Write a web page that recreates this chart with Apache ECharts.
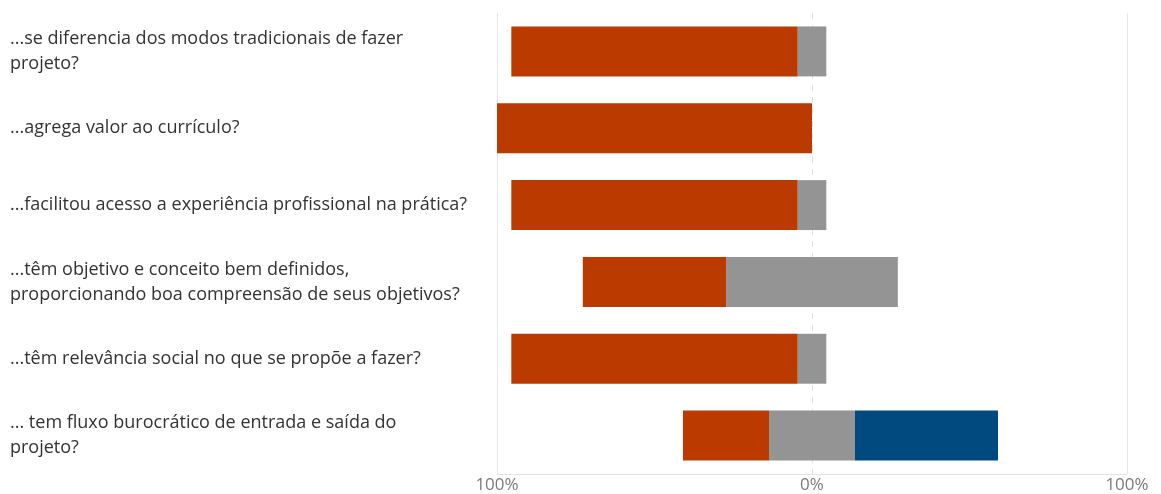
<!DOCTYPE html>
<html>
<head>
<meta charset="utf-8">
<script src="https://cdn.jsdelivr.net/npm/echarts@6/dist/echarts.min.js"></script>
<style>
  html, body { margin: 0; padding: 0; background: #ffffff; }
  #chart { width: 1161px; height: 494px; }
</style>
</head>
<body>
<div id="chart"></div>
<script>
// Perguntas (uma por linha do gráfico)
const categories = [
  '...se diferencia dos modos tradicionais de fazer\nprojeto?',
  '...agrega valor ao currículo?',
  '...facilitou acesso a experiência profissional na prática?',
  '...têm objetivo e conceito bem definidos,\nproporcionando boa compreensão de seus objetivos?',
  '...têm relevância social no que se propõe a fazer?',
  '... tem fluxo burocrático de entrada e saída do\nprojeto?'
];

// Percentual de respostas por pergunta
const concordo = [90.9, 100, 90.9, 45.5, 90.9, 27.3];
const neutro = [9.1, 0, 9.1, 54.5, 9.1, 27.3];
const discordo = [0, 0, 0, 0, 0, 45.4];

// Tick labels do eixo horizontal
const xTicks = [-100, 0, 100];

const RED = '#BB3A00';
const GREY = '#949494';
const BLUE = '#004A80';

// Neutro é dividido ao meio em torno do zero
const neutroNeg = neutro.map(v => -v / 2);
const neutroPos = neutro.map(v => v / 2);
const concordoNeg = concordo.map(v => -v);

const chart = echarts.init(document.getElementById('chart'), null, { renderer: 'canvas' });

const font = "'Open Sans', 'Noto Sans', sans-serif";

chart.setOption({
  animation: false,
  grid: { left: 497, right: 34, top: 13, bottom: 19, containLabel: false },
  xAxis: {
    type: 'value',
    min: xTicks[0],
    max: xTicks[xTicks.length - 1],
    interval: 100,
    axisLine: { show: true, lineStyle: { color: '#e3e3e3', width: 1 } },
    axisTick: { show: false },
    splitLine: { show: false },
    axisLabel: {
      color: '#7a7a7a',
      fontSize: 17,
      fontFamily: font,
      margin: 3,
      formatter: v => Math.abs(v) + '%'
    }
  },
  yAxis: {
    type: 'category',
    data: categories,
    inverse: true,
    axisLine: { show: false },
    axisTick: { show: false },
    splitLine: { show: false },
    axisLabel: {
      align: 'left',
      margin: 487,
      color: '#333333',
      fontSize: 18,
      lineHeight: 25,
      fontFamily: font
    }
  },
  series: [
    {
      // linhas de referência verticais em -100%, 0% e 100%, atrás das barras
      name: 'linhas',
      type: 'line',
      data: [],
      z: 0,
      silent: true,
      markLine: {
        z: 0,
        silent: true,
        symbol: 'none',
        label: { show: false },
        data: [
          { xAxis: xTicks[0], lineStyle: { color: '#e6e6e6', type: 'solid', width: 1 } },
          { xAxis: xTicks[1], lineStyle: { color: '#e0e0e0', type: [6, 6], width: 1 } },
          { xAxis: xTicks[2], lineStyle: { color: '#e6e6e6', type: 'solid', width: 1 } }
        ]
      }
    },
    {
      name: 'Neutro',
      type: 'bar',
      stack: 'total',
      barCategoryGap: '35%',
      z: 2,
      itemStyle: { color: GREY },
      data: neutroNeg
    },
    {
      name: 'Concordo',
      type: 'bar',
      stack: 'total',
      z: 2,
      itemStyle: { color: RED },
      data: concordoNeg
    },
    {
      name: 'Neutro ',
      type: 'bar',
      stack: 'total',
      z: 2,
      itemStyle: { color: GREY },
      data: neutroPos
    },
    {
      name: 'Discordo',
      type: 'bar',
      stack: 'total',
      z: 2,
      itemStyle: { color: BLUE },
      data: discordo
    }
  ]
});
</script>
</body>
</html>
